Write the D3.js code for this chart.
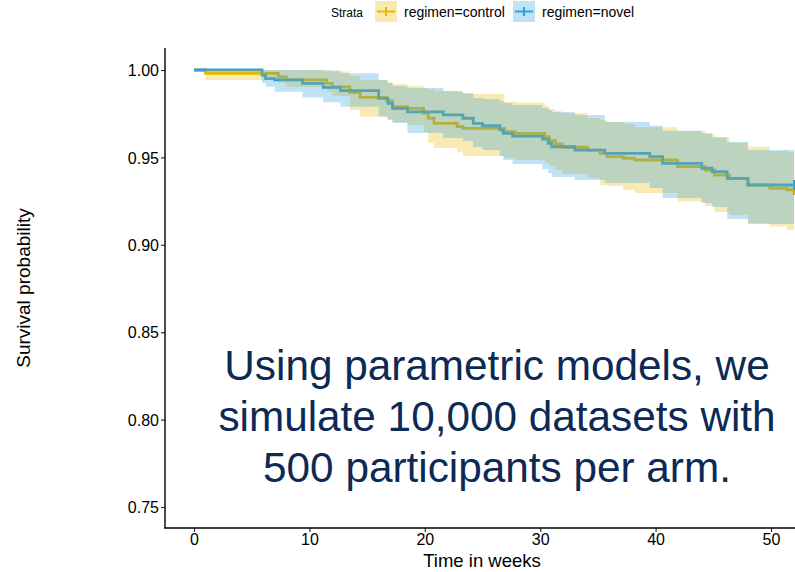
<!DOCTYPE html>
<html>
<head>
<meta charset="utf-8">
<script src="https://cdn.jsdelivr.net/npm/d3@7"></script>
<style>
  html, body { margin: 0; padding: 0; background: #ffffff; }
  svg { display: block; font-family: "Liberation Sans", Arial, Helvetica, sans-serif; }
</style>
</head>
<body>
<svg id="chart" width="795" height="572"></svg>
<script>
// Kaplan-Meier estimates with 95% confidence limits, by regimen
const strata = ["regimen=control", "regimen=novel"];
const colors = ["#E7B800", "#2E9FDF"];

const controlTime  = [0, 1.0, 7.3, 8.0, 11.5, 12.0, 13.5, 14.4, 16.7, 17.2, 18.5, 19.9, 20.3, 20.8, 22.8, 23.3, 26.9, 27.8, 30.4, 30.8, 31.3, 31.9, 34.1, 35.2, 35.8, 37.2, 38.2, 41.9, 44.3, 45.1, 46.4, 48.0, 49.9, 51.4, 52.0];
const controlSurv  = [1, 0.9981, 0.9962, 0.9943, 0.9924, 0.9904, 0.9870, 0.9843, 0.9824, 0.9790, 0.9781, 0.9752, 0.9724, 0.9695, 0.9676, 0.9666, 0.9647, 0.9638, 0.9618, 0.9596, 0.9577, 0.9558, 0.9542, 0.9523, 0.9504, 0.9495, 0.9485, 0.9447, 0.9428, 0.9399, 0.9380, 0.9342, 0.9323, 0.9314, 0.9314];
const controlLower = [1, 0.9943, 0.9926, 0.9903, 0.9874, 0.9851, 0.9771, 0.9733, 0.9720, 0.9703, 0.9685, 0.9645, 0.9582, 0.9554, 0.9531, 0.9508, 0.9497, 0.9485, 0.9468, 0.9451, 0.9428, 0.9405, 0.9382, 0.9342, 0.9336, 0.9314, 0.9296, 0.9247, 0.9222, 0.9188, 0.9170, 0.9125, 0.9104, 0.9085, 0.9085];
const controlUpper = [1, 1.0, 1.0, 1.0, 0.9997, 0.9991, 0.9966, 0.9943, 0.9931, 0.9920, 0.9908, 0.9897, 0.9891, 0.9880, 0.9874, 0.9863, 0.9817, 0.9814, 0.9794, 0.9777, 0.9765, 0.9754, 0.9725, 0.9714, 0.9703, 0.9691, 0.9672, 0.9651, 0.9634, 0.9617, 0.9584, 0.9561, 0.9537, 0.9531, 0.9531];

const novelTime  = [0, 5.9, 6.2, 7.0, 9.4, 11.2, 12.7, 16.0, 16.8, 17.2, 18.5, 21.6, 23.3, 24.2, 25.0, 26.5, 26.8, 27.6, 30.2, 30.7, 31.0, 33.0, 35.6, 39.5, 40.6, 44.0, 44.9, 46.2, 48.0, 52.0];
const novelSurv  = [1, 0.9971, 0.9951, 0.9943, 0.9924, 0.9901, 0.9882, 0.9838, 0.9809, 0.9781, 0.9761, 0.9743, 0.9724, 0.9695, 0.9681, 0.9657, 0.9638, 0.9622, 0.9604, 0.9581, 0.9561, 0.9542, 0.9523, 0.9504, 0.9466, 0.9438, 0.9418, 0.9380, 0.9342, 0.9342];
const novelLower = [1, 0.9926, 0.9904, 0.9876, 0.9842, 0.9815, 0.9790, 0.9734, 0.9714, 0.9697, 0.9640, 0.9611, 0.9594, 0.9560, 0.9542, 0.9508, 0.9485, 0.9462, 0.9434, 0.9411, 0.9388, 0.9371, 0.9354, 0.9325, 0.9268, 0.9239, 0.9216, 0.9148, 0.9119, 0.9119];
const novelUpper = [1, 1.0, 1.0, 1.0, 1.0, 0.9997, 0.9981, 0.9943, 0.9926, 0.9908, 0.9897, 0.9880, 0.9868, 0.9840, 0.9834, 0.9823, 0.9811, 0.9800, 0.9783, 0.9771, 0.9760, 0.9743, 0.9703, 0.9681, 0.9653, 0.9638, 0.9614, 0.9588, 0.9542, 0.9542];

const xTicks = [0, 10, 20, 30, 40, 50];
const yTicks = [0.75, 0.80, 0.85, 0.90, 0.95, 1.00];
const note = ["Using parametric models, we", "simulate 10,000 datasets with", "500 participants per arm."];

function zipCurve(t, s, lo, hi) {
  return t.map((d, i) => ({ t: d, s: s[i], lo: lo[i], hi: hi[i] }));
}
const curves = [
  { name: strata[0], color: colors[0], pts: zipCurve(controlTime, controlSurv, controlLower, controlUpper) },
  { name: strata[1], color: colors[1], pts: zipCurve(novelTime, novelSurv, novelLower, novelUpper) }
];

const svg = d3.select("#chart");

const x = d3.scaleLinear().domain([0, 50]).range([194, 771]);
const y = d3.scaleLinear().domain([0.75, 1.0]).range([507, 70]);

const panelLeft = 165, panelRight = 795, panelTop = 48, panelBottom = 528;

svg.append("defs").append("clipPath").attr("id", "panel")
  .append("rect")
  .attr("x", panelLeft).attr("y", panelTop)
  .attr("width", panelRight - panelLeft).attr("height", panelBottom - panelTop);

const plot = svg.append("g").attr("clip-path", "url(#panel)");

const line = d3.line().curve(d3.curveStepAfter).x(d => x(d.t)).y(d => y(d.s));
const band = d3.area().curve(d3.curveStepAfter)
  .x(d => x(d.t)).y0(d => y(d.lo)).y1(d => y(d.hi));

// survival step lines
curves.forEach(c => {
  plot.append("path")
    .datum(c.pts)
    .attr("d", line)
    .attr("fill", "none")
    .attr("stroke", c.color)
    .attr("stroke-width", 2.8);
});

// censoring marks at the end of follow-up
curves.forEach(c => {
  const last = c.pts[c.pts.length - 1];
  const cx = x(last.t), cy = y(last.s);
  plot.append("path")
    .attr("d", `M${cx - 5},${cy}H${cx + 5}M${cx},${cy - 5}V${cy + 5}`)
    .attr("stroke", c.color)
    .attr("stroke-width", 2.2)
    .attr("fill", "none");
});

// confidence ribbons laid over the lines
curves.forEach(c => {
  plot.append("path")
    .datum(c.pts)
    .attr("d", band)
    .attr("fill", c.color)
    .attr("fill-opacity", 0.3)
    .attr("stroke", "none");
});

// axes
const yAxis = d3.axisLeft(y).tickValues(yTicks).tickFormat(d3.format(".2f")).tickSize(4).tickSizeOuter(0);
const xAxis = d3.axisBottom(x).tickValues(xTicks).tickFormat(d3.format("d")).tickSize(4).tickSizeOuter(0);

const gy = svg.append("g").attr("transform", `translate(${panelLeft},0)`).call(yAxis);
const gx = svg.append("g").attr("transform", `translate(0,${panelBottom})`).call(xAxis);

gy.select(".domain").remove();
gx.select(".domain").remove();

svg.append("line")
  .attr("x1", panelLeft).attr("x2", panelLeft)
  .attr("y1", panelTop).attr("y2", panelBottom + 0.5)
  .attr("stroke", "#000").attr("stroke-width", 1.4);
svg.append("line")
  .attr("x1", panelLeft - 0.5).attr("x2", panelRight)
  .attr("y1", panelBottom).attr("y2", panelBottom)
  .attr("stroke", "#000").attr("stroke-width", 1.4);

[gx, gy].forEach(g => {
  g.selectAll(".tick line").attr("stroke", "#333").attr("stroke-width", 1.2);
  g.selectAll(".tick text")
    .attr("fill", "#000")
    .style("font-size", "16px")
    .style("font-family", '"Liberation Sans", Arial, sans-serif');
});
gy.selectAll(".tick text").attr("x", -6).attr("dy", "0.35em");
gx.selectAll(".tick text").attr("y", 6).attr("dy", "0.71em");

// axis titles
svg.append("text")
  .attr("x", 482).attr("y", 567)
  .attr("text-anchor", "middle")
  .style("font-size", "18.5px")
  .attr("fill", "#000")
  .text("Time in weeks");

svg.append("text")
  .attr("transform", "translate(30,288) rotate(-90)")
  .attr("text-anchor", "middle")
  .style("font-size", "19px")
  .attr("fill", "#000")
  .text("Survival probability");

// legend
const legend = svg.append("g");
legend.append("text")
  .attr("x", 331).attr("y", 17)
  .style("font-size", "12px")
  .attr("fill", "#000")
  .text("Strata");

const keyX = [375, 513];
const labelX = [404, 542];
curves.forEach((c, i) => {
  const k = legend.append("g").attr("transform", `translate(${keyX[i]},1)`);
  k.append("rect")
    .attr("width", 22).attr("height", 21)
    .attr("fill", c.color).attr("fill-opacity", 0.3);
  k.append("line")
    .attr("x1", 2).attr("x2", 20).attr("y1", 10.5).attr("y2", 10.5)
    .attr("stroke", c.color).attr("stroke-width", 2);
  k.append("line")
    .attr("x1", 11).attr("x2", 11).attr("y1", 6).attr("y2", 15)
    .attr("stroke", c.color).attr("stroke-width", 2);
  legend.append("text")
    .attr("x", labelX[i]).attr("y", 17)
    .style("font-size", "14px")
    .attr("fill", "#000")
    .text(c.name);
});

// annotation
const noteText = svg.append("text")
  .attr("text-anchor", "middle")
  .attr("fill", "#0c2a55")
  .style("font-size", "42.3px");
note.forEach((s, i) => {
  noteText.append("tspan")
    .attr("x", 497)
    .attr("y", 380 + i * 51)
    .text(s);
});
</script>
</body>
</html>
